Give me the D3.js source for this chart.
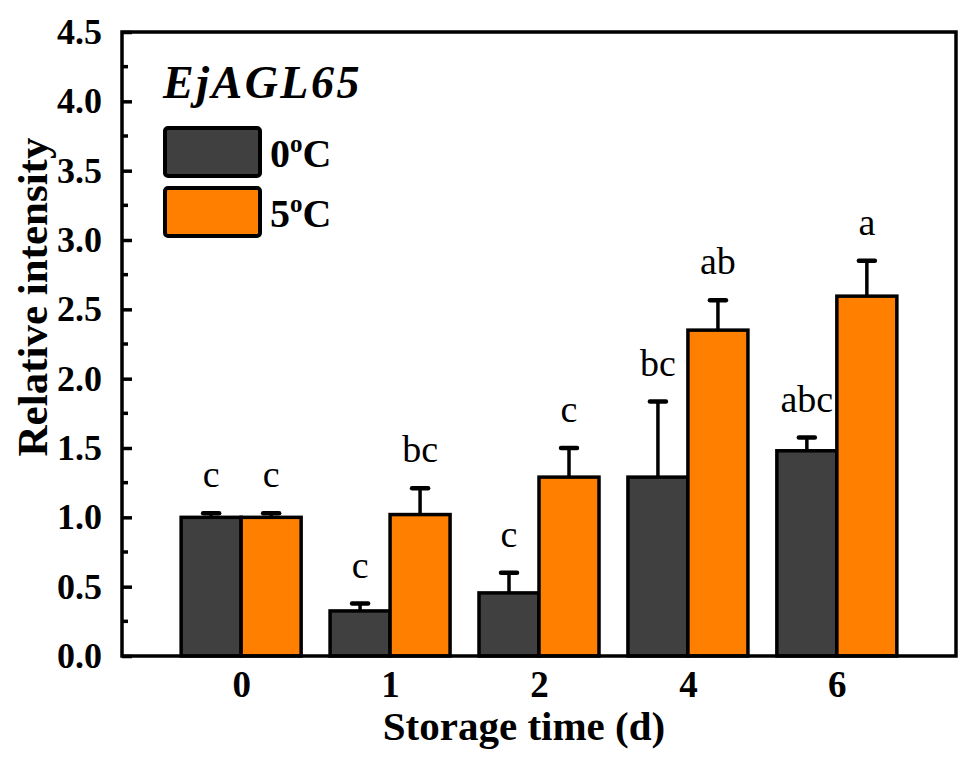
<!DOCTYPE html>
<html><head><meta charset="utf-8">
<script src="https://cdn.jsdelivr.net/npm/d3@7"></script>
<style>body{margin:0;background:#fff}svg{display:block}text{font-family:"Liberation Serif","Times New Roman",serif}</style>
</head><body><svg id="c" width="975" height="774"></svg>
<script>
const categories = ["0","1","2","4","6"];
const series = ["0","5"];
const values0C = [1.00, 0.325, 0.455, 1.29, 1.48];
const errors0C = [0.03, 0.053, 0.145, 0.545, 0.095];
const values5C = [1.00, 1.02, 1.29, 2.35, 2.595];
const errors5C = [0.03, 0.19, 0.21, 0.215, 0.255];
const letters0C = ["c","c","c","bc","abc"];
const letters5C = ["c","bc","c","ab","a"];
const yTicks = [0,0.5,1,1.5,2,2.5,3,3.5,4,4.5];
const colors = ["#404040","#ff8000"];

const svg = d3.select("#c");
const L=122,R=956,T=32,B=656;
const x = d3.scalePoint().domain(categories).range([L,R]).padding(0.8);
const y = d3.scaleLinear().domain([0,4.5]).range([B,T]);
const bw = 60;

const data = [];
categories.forEach((c,i)=>{
  data.push({c, s:0, v:values0C[i], e:errors0C[i], l:letters0C[i]});
  data.push({c, s:1, v:values5C[i], e:errors5C[i], l:letters5C[i]});
});
const bx = d => x(d.c) + (d.s===0 ? -bw : 0);

// bars
svg.append("g").selectAll("rect").data(data).join("rect")
  .attr("x", bx).attr("y", d=>y(d.v)).attr("width", bw).attr("height", d=>y(0)-y(d.v))
  .attr("fill", d=>colors[d.s]).attr("stroke","#000").attr("stroke-width",3.5);

// error bars
const eg = svg.append("g").attr("stroke","#000");
eg.selectAll("line.v").data(data).join("line").attr("class","v")
  .attr("x1", d=>bx(d)+bw/2).attr("x2", d=>bx(d)+bw/2)
  .attr("y1", d=>y(d.v)).attr("y2", d=>y(d.v+d.e)).attr("stroke-width",3.5);
eg.selectAll("line.h").data(data).join("line").attr("class","h")
  .attr("x1", d=>bx(d)+bw/2-8).attr("x2", d=>bx(d)+bw/2+8)
  .attr("y1", d=>y(d.v+d.e)).attr("y2", d=>y(d.v+d.e)).attr("stroke-width",4.5).attr("stroke-linecap","round");

// letters
svg.append("g").selectAll("text").data(data).join("text")
  .attr("x", d=>bx(d)+bw/2).attr("y", d=>y(d.v+d.e)-26)
  .attr("text-anchor","middle").attr("font-size",38).text(d=>d.l);

// y axis ticks (inward)
const yAx = d3.axisLeft(y).tickValues(yTicks).tickFormat(d3.format(".1f")).tickSizeInner(-10).tickSizeOuter(0).tickPadding(20);
const gy = svg.append("g").attr("transform",`translate(${L},0)`).call(yAx);
gy.select(".domain").remove();
gy.selectAll(".tick line").attr("stroke","#000").attr("stroke-width",3.5);
gy.selectAll(".tick text").attr("font-size",36).attr("font-weight","bold").attr("fill","#000")
  .attr("font-family",'"Liberation Serif","Times New Roman",serif');
const minor = d3.range(0.25,4.5,0.5);
svg.append("g").selectAll("line").data(minor).join("line")
  .attr("x1",L).attr("x2",L+6).attr("y1",d=>y(d)).attr("y2",d=>y(d)).attr("stroke","#000").attr("stroke-width",3.5);

// x axis labels
const xAx = d3.axisBottom(x).tickSize(0).tickPadding(15);
const gx = svg.append("g").attr("transform",`translate(0,${B})`).call(xAx);
gx.select(".domain").remove();
gx.selectAll(".tick text").attr("font-size",37).attr("font-weight","bold").attr("fill","#000")
  .attr("font-family",'"Liberation Serif","Times New Roman",serif');

// frame
svg.append("rect").attr("x",L).attr("y",T).attr("width",R-L).attr("height",B-T)
  .attr("fill","none").attr("stroke","#000").attr("stroke-width",3.5);

// axis titles
svg.append("text").attr("x",524).attr("y",740).attr("text-anchor","middle")
  .attr("font-size",41).attr("font-weight","bold").text("Storage time (d)");
svg.append("text").attr("transform","translate(47,297) rotate(-90)").attr("text-anchor","middle")
  .attr("font-size",43).attr("font-weight","bold").text("Relative intensity");

// legend
svg.append("text").attr("x",163).attr("y",98).attr("font-size",46).attr("font-weight","bold")
  .attr("font-style","italic").attr("letter-spacing",2.5).text("EjAGL65");
const lg = svg.append("g").selectAll("g").data(series).join("g")
  .attr("transform",(d,i)=>`translate(165,${128+i*60})`);
lg.append("rect").attr("width",95).attr("height",48).attr("rx",3)
  .attr("fill",(d,i)=>colors[i]).attr("stroke","#000").attr("stroke-width",4);
const lt = lg.append("text").attr("x",105).attr("y",39).attr("font-size",40).attr("font-weight","bold");
lt.append("tspan").text(d=>d);
lt.append("tspan").attr("font-size",25).attr("dy",-15).text("o");
lt.append("tspan").attr("dy",15).text("C");
</script></body></html>
